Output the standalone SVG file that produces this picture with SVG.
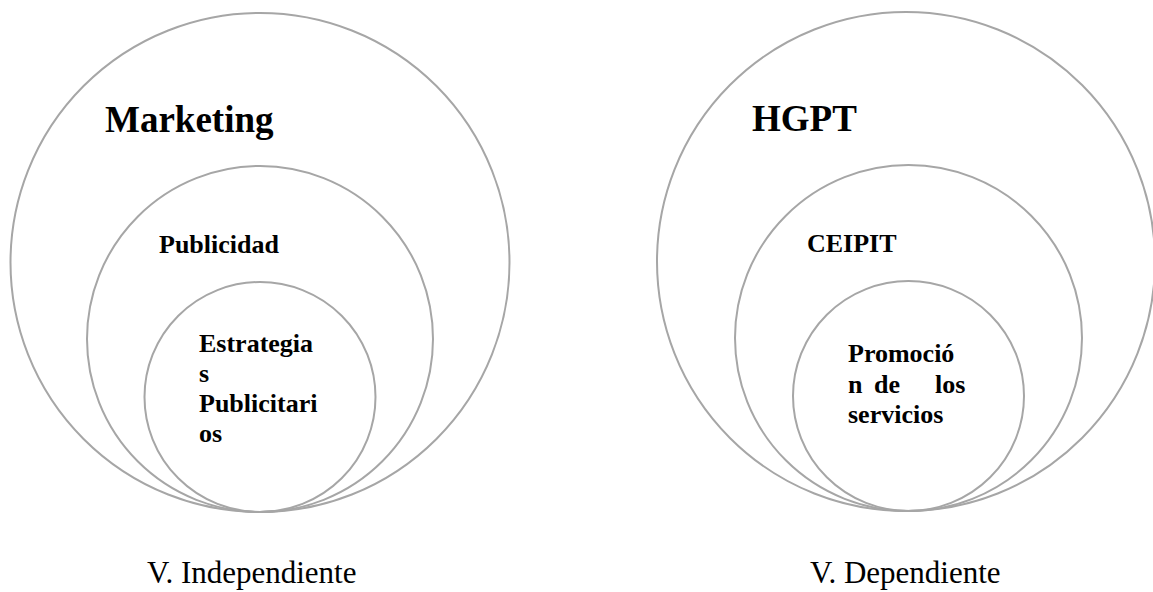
<svg xmlns="http://www.w3.org/2000/svg" width="1153" height="592" viewBox="0 0 1153 592">
<style>
  .ring { fill: none; stroke: #a6a6a6; stroke-width: 2; }
  .t { font-family: "Liberation Serif", "Times New Roman", serif; fill: #000; }
  .b { font-weight: bold; }
  .big { font-size: 37px; }
  .mid { font-size: 26px; }
  .cap { font-size: 31px; }
</style>
<rect width="1153" height="592" fill="#fff"/>
<g id="marketing">
  <ellipse class="ring" cx="260" cy="262.5" rx="249.5" ry="249.5"/>
  <text class="t b big" x="105" y="132">Marketing</text>
</g>
<g id="publicidad">
  <ellipse class="ring" cx="260" cy="339" rx="173" ry="173"/>
  <text class="t b mid" x="159" y="253">Publicidad</text>
</g>
<g id="estrategias">
  <ellipse class="ring" cx="260" cy="397" rx="115.5" ry="115"/>
  <text class="t b mid" x="199" y="352">Estrategia</text>
  <text class="t b mid" x="199" y="382">s</text>
  <text class="t b mid" x="199" y="412">Publicitari</text>
  <text class="t b mid" x="199" y="442">os</text>
</g>
<g id="hgpt">
  <ellipse class="ring" cx="906" cy="261.5" rx="249" ry="249.5"/>
  <text class="t b big" x="752" y="131">HGPT</text>
</g>
<g id="ceipit">
  <ellipse class="ring" cx="908.5" cy="338" rx="173.5" ry="173"/>
  <text class="t b mid" x="807" y="252">CEIPIT</text>
</g>
<g id="promocion">
  <ellipse class="ring" cx="908.5" cy="396" rx="115.5" ry="115"/>
  <text class="t b mid" x="848" y="362">Promoció</text>
  <text class="t b mid" x="848" y="392.5">n</text>
  <text class="t b mid" x="874" y="392.5">de</text>
  <text class="t b mid" x="935" y="392.5">los</text>
  <text class="t b mid" x="848" y="423">servicios</text>
</g>
<g id="labels">
  <text class="t cap" x="147" y="583">V. Independiente</text>
  <text class="t cap" x="810" y="583">V. Dependiente</text>
</g>
<g id="connectors"/>
</svg>
